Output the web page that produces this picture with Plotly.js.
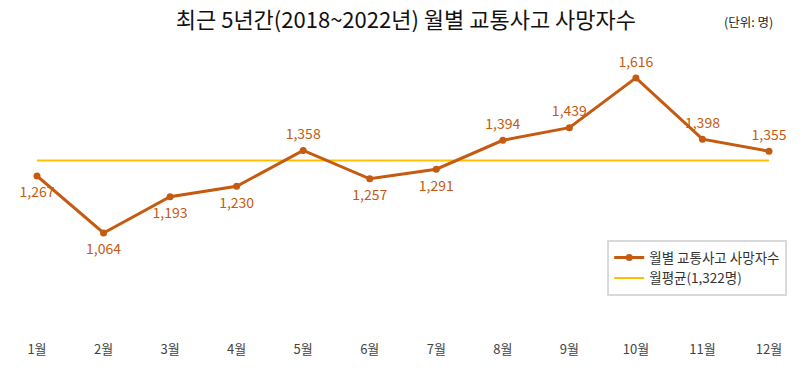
<!DOCTYPE html>
<html><head><meta charset="utf-8">
<script src="https://cdn.plot.ly/plotly-3.0.1.min.js"></script>
<style>html,body{margin:0;padding:0;background:#fff}#c{width:807px;height:372px}</style>
</head><body><div id="c"></div>
<script>
const months = ['1월','2월','3월','4월','5월','6월','7월','8월','9월','10월','11월','12월'];
const deaths = [1267,1064,1193,1230,1358,1257,1291,1394,1439,1616,1398,1355];
const labelPos = ['bottom center','bottom center','bottom center','bottom center','top center','bottom center','bottom center','top center','top center','top center','top center','top center'];
const avgValue = 1322;
const seriesName = '월별 교통사고 사망자수';
const avgName = '월평균(1,322명)';

const font = '"Noto Sans CJK KR", "Noto Sans", sans-serif';
const lineColor = '#C55A11';
const avgColor = '#FFC000';

const traces = [
  {x: months, y: months.map(() => avgValue), type: 'scatter', mode: 'lines', name: avgName,
   line: {color: avgColor, width: 2}, cliponaxis: false, hoverinfo: 'none', legendrank: 2},
  {x: months, y: deaths, type: 'scatter', mode: 'lines+markers', name: seriesName,
   line: {color: lineColor, width: 3}, marker: {color: lineColor, size: 7},
   cliponaxis: false, hoverinfo: 'none', legendrank: 1},
  {x: months, y: deaths, type: 'scatter', mode: 'markers+text', showlegend: false,
   marker: {size: labelPos.map(p => p.startsWith('top') ? 11 : 16), opacity: 0},
   text: deaths.map(v => v.toLocaleString('en-US')), textposition: labelPos,
   textfont: {family: font, size: 14, color: lineColor}, cliponaxis: false, hoverinfo: 'none'}
];

const layout = {
  width: 807, height: 372,
  margin: {l: 37, r: 38, t: 40, b: 32},
  paper_bgcolor: '#fff', plot_bgcolor: '#fff',
  font: {family: font, color: '#333'},
  title: {text: '최근 5년간(2018~2022년) 월별 교통사고 사망자수', font: {family: font, size: 22, color: '#111'},
          x: 0.503, xanchor: 'center', y: 0.945, yanchor: 'middle'},
  xaxis: {type: 'category', range: [0, 11], showgrid: false, zeroline: false, showline: false, ticks: '',
          tickfont: {family: font, size: 13, color: '#444'}},
  yaxis: {range: [683, 1751], visible: false, showgrid: false, zeroline: false},
  showlegend: true,
  legend: {x: 0.779, y: 0.333, xanchor: 'left', yanchor: 'top', bordercolor: '#D9D9D9', borderwidth: 2,
           bgcolor: '#fff', font: {family: font, size: 13.5, color: '#333'}, tracegroupgap: 0,
           traceorder: 'normal'},
  annotations: [{text: '(단위: 명)', xref: 'paper', yref: 'paper', x: 1.008, y: 1.06, xanchor: 'right', yanchor: 'middle',
                 showarrow: false, font: {family: font, size: 12.5, color: '#222'}}]
};
Plotly.newPlot('c', traces, layout, {displayModeBar: false, staticPlot: true});
</script></body></html>
